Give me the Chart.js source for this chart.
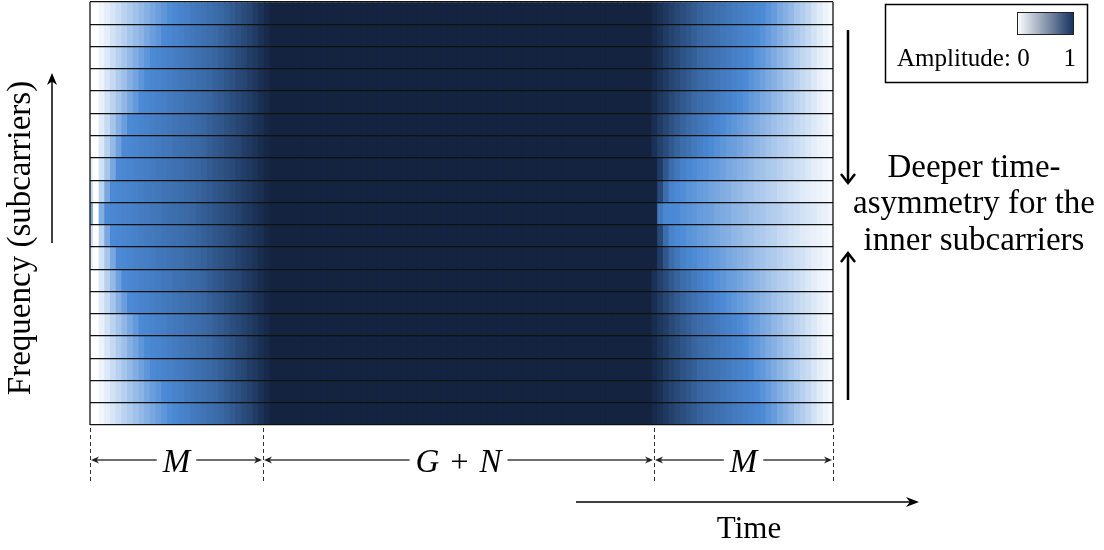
<!DOCTYPE html>
<html>
<head>
<meta charset="utf-8">
<title>Subcarrier amplitude over time</title>
<script src="https://cdn.jsdelivr.net/npm/chart.js@4.4.1/dist/chart.umd.min.js"></script>
<style>
  html, body { margin: 0; padding: 0; background: #fff; }
</style>
</head>
<body>
<canvas id="my-chart" width="1104" height="550"></canvas>
<script>
'use strict';

//***********Chart data***********
// amplitude in percent for each time column, one profile per subcarrier row
// left edge: columns 0..33, right edge: columns 97..130, columns in between are at full amplitude
let leftRamps = [
  [0, 0, 3, 6, 9, 12, 15, 18, 21, 24, 27, 30, 33, 36, 39, 42, 46, 49, 53, 56, 59, 63, 66, 70, 73, 76, 80, 83, 86, 90, 93, 97, 100, 100],
  [0, 0, 3, 6, 10, 13, 16, 20, 23, 26, 30, 33, 36, 40, 43, 46, 49, 53, 56, 59, 62, 65, 68, 72, 75, 78, 81, 84, 87, 90, 94, 97, 100, 100],
  [0, 0, 4, 8, 12, 16, 20, 24, 28, 32, 36, 40, 43, 46, 49, 52, 54, 57, 60, 63, 66, 69, 71, 74, 77, 80, 83, 86, 89, 91, 94, 97, 100, 100],
  [0, 0, 4, 9, 13, 18, 22, 27, 31, 36, 40, 43, 45, 48, 51, 54, 56, 59, 62, 65, 67, 70, 73, 75, 78, 81, 84, 86, 89, 92, 95, 97, 100, 100],
  [0, 0, 5, 10, 15, 20, 25, 30, 35, 40, 43, 45, 48, 50, 53, 56, 58, 61, 63, 66, 69, 71, 74, 76, 79, 82, 84, 87, 89, 92, 95, 97, 100, 100],
  [0, 0, 7, 13, 20, 27, 33, 40, 42, 45, 47, 50, 52, 55, 57, 59, 62, 64, 66, 69, 71, 74, 76, 78, 81, 83, 86, 88, 90, 93, 95, 98, 100, 100],
  [0, 0, 8, 16, 24, 32, 40, 42, 44, 47, 49, 51, 54, 56, 58, 61, 63, 65, 68, 70, 72, 75, 77, 79, 82, 84, 86, 89, 91, 93, 96, 98, 100, 100],
  [5, 0, 10, 20, 30, 40, 42, 44, 47, 49, 51, 53, 56, 58, 60, 62, 64, 67, 69, 71, 73, 76, 78, 80, 82, 84, 87, 89, 91, 93, 96, 98, 100, 100],
  [12, 0, 15, 30, 40, 42, 44, 46, 48, 51, 53, 55, 57, 59, 61, 63, 65, 68, 70, 72, 74, 76, 78, 80, 82, 85, 87, 89, 91, 93, 95, 98, 100, 100],
  [30, 0, 28, 40, 42, 44, 46, 48, 50, 52, 54, 56, 58, 61, 63, 65, 67, 69, 71, 73, 75, 77, 79, 81, 83, 85, 87, 90, 92, 94, 96, 98, 100, 100]
];
let rightRamps = [
  [100, 100, 97, 94, 91, 88, 85, 82, 79, 76, 73, 70, 67, 64, 61, 58, 55, 52, 49, 46, 43, 40, 37, 34, 30, 27, 24, 20, 17, 14, 10, 7, 4, 2],
  [100, 100, 97, 94, 90, 87, 84, 81, 78, 74, 71, 68, 65, 62, 58, 55, 52, 49, 46, 43, 40, 37, 34, 31, 28, 25, 22, 19, 16, 13, 10, 7, 4, 2],
  [100, 100, 97, 94, 90, 87, 84, 80, 77, 74, 70, 67, 64, 60, 57, 54, 50, 47, 44, 40, 37, 35, 32, 29, 26, 23, 20, 17, 14, 12, 9, 6, 4, 2],
  [100, 100, 97, 93, 90, 86, 83, 79, 76, 72, 68, 65, 61, 58, 54, 51, 47, 44, 40, 37, 35, 32, 29, 27, 24, 21, 19, 16, 13, 11, 8, 5, 3, 2],
  [100, 100, 96, 92, 89, 85, 81, 77, 74, 70, 66, 62, 59, 55, 51, 47, 44, 40, 38, 35, 33, 30, 28, 25, 23, 20, 18, 15, 13, 10, 8, 5, 3, 2],
  [100, 100, 95, 90, 86, 81, 76, 72, 67, 62, 58, 53, 49, 44, 40, 38, 36, 34, 32, 30, 28, 26, 24, 22, 20, 18, 16, 14, 12, 10, 8, 6, 4, 2],
  [100, 100, 94, 88, 83, 77, 72, 66, 61, 55, 50, 45, 40, 38, 36, 34, 33, 31, 29, 27, 25, 23, 21, 19, 17, 16, 14, 12, 10, 8, 6, 4, 3, 2],
  [100, 100, 100, 90, 78, 66, 56, 48, 43, 40, 38, 37, 35, 34, 32, 30, 29, 27, 26, 24, 22, 21, 19, 18, 16, 14, 13, 11, 10, 8, 6, 5, 3, 2],
  [100, 100, 100, 85, 65, 46, 40, 39, 37, 36, 34, 33, 31, 30, 28, 27, 25, 24, 22, 21, 19, 18, 16, 15, 13, 12, 10, 9, 7, 6, 5, 4, 3, 2],
  [100, 100, 100, 55, 42, 41, 40, 38, 37, 36, 34, 33, 32, 30, 29, 28, 26, 25, 24, 22, 21, 20, 18, 17, 16, 14, 13, 12, 10, 9, 8, 6, 5, 3]
];
// rows top to bottom -> profile (the picture is mirrored around the middle subcarrier)
let rowProfile = [0, 1, 2, 3, 4, 5, 6, 7, 8, 9, 8, 7, 6, 5, 4, 3, 2, 1, 0];
let midColumns = 63;
let midLevel = 100;

// segments under the plot, in column units
let spanBounds = [0.42, 30.77, 99.37, 130.77];
let spanLabels = ['M', 'G + N', 'M'];

let legendLabel = 'Amplitude: 0';
let rightNote = ['Deeper time-', 'asymmetry for the', 'inner subcarriers'];

//***********Colour map***********
let cmapStops = [
  [0, [255, 255, 255]],
  [0.4, [76, 138, 214]],
  [0.7, [58, 104, 164]],
  [0.85, [40, 72, 118]],
  [1, [19, 35, 64]]
];

function ampColor(pct) {
  let a = Math.max(0, Math.min(1, pct / 100));
  for (let i = 1; i < cmapStops.length; i++) {
    if (a <= cmapStops[i][0]) {
      let lo = cmapStops[i - 1];
      let hi = cmapStops[i];
      let t = (a - lo[0]) / (hi[0] - lo[0]);
      let c = lo[1].map((v, k) => Math.round(v + (hi[1][k] - v) * t));
      return `rgb(${c[0]},${c[1]},${c[2]})`;
    }
  }
  return 'rgb(19,35,64)';
}

//***********Build datasets***********
let heatRows = [];
for (let r = 0; r < rowProfile.length; r++) {
  let p = rowProfile[r];
  let amps = leftRamps[p].concat(new Array(midColumns).fill(midLevel), rightRamps[p]);
  let points = [];
  for (let j = 0; j < amps.length; j++) {
    points.push({ x: j + 0.5, y: [r, r + 1], a: amps[j] });
  }
  heatRows.push({
    label: 'row ' + r,
    data: points,
    grouped: false,
    barPercentage: 1,
    categoryPercentage: 1,
    borderWidth: 0,
    inflateAmount: 0.4,
    clip: 0,
    backgroundColor: (ctx) => ampColor(ctx.raw ? ctx.raw.a : 0)
  });
}

//***********Drawing helpers***********
function strokeLine(c, x1, y1, x2, y2) {
  c.beginPath();
  c.moveTo(x1, y1);
  c.lineTo(x2, y2);
  c.stroke();
}

function arrowHead(c, tx, ty, dx, dy, len, half, open) {
  let bx = tx - dx * len;
  let by = ty - dy * len;
  let px = -dy;
  let py = dx;
  c.beginPath();
  if (open) {
    c.moveTo(bx + px * half, by + py * half);
    c.lineTo(tx, ty);
    c.lineTo(bx - px * half, by - py * half);
    c.stroke();
  } else {
    c.moveTo(tx, ty);
    c.lineTo(bx + px * half, by + py * half);
    c.lineTo(tx - dx * len * 0.7, ty - dy * len * 0.7);
    c.lineTo(bx - px * half, by - py * half);
    c.closePath();
    c.fill();
  }
}

function spanFont(part) {
  return part === '+' ? '32px "Liberation Serif"' : 'italic 33px "Liberation Serif"';
}

function drawSpan(c, x1, x2, y, label) {
  let parts = label.split(' ');
  let gap = 11;
  let widths = parts.map(p => { c.font = spanFont(p); return c.measureText(p).width; });
  let total = widths.reduce((s, w) => s + w, 0) + gap * (parts.length - 1);
  let mid = (x1 + x2) / 2;
  let x = mid - total / 2;
  c.fillStyle = '#000';
  c.textAlign = 'left';
  c.textBaseline = 'alphabetic';
  parts.forEach((p, i) => {
    c.font = spanFont(p);
    c.fillText(p, x, y + 12);
    x += widths[i] + gap;
  });
  c.strokeStyle = '#3c3c3c';
  c.fillStyle = '#222';
  c.lineWidth = 1.5;
  strokeLine(c, x1 + 4, y, mid - total / 2 - 6, y);
  strokeLine(c, mid + total / 2 + 6, y, x2 - 4, y);
  arrowHead(c, x1 + 1, y, -1, 0, 8, 3.5, false);
  arrowHead(c, x2 - 1, y, 1, 0, 8, 3.5, false);
}

//***********Annotation plugin***********
let annotations = {
  id: 'annotations',
  afterDraw(chart) {
    let c = chart.ctx;
    let area = chart.chartArea;
    let xs = chart.scales.x;
    c.save();

    // frame sides
    c.strokeStyle = '#111';
    c.lineWidth = 1.3;
    strokeLine(c, area.left, area.top, area.left, area.bottom);
    strokeLine(c, area.right, area.top, area.right, area.bottom);

    // dashed segment markers
    let marks = spanBounds.map(v => xs.getPixelForValue(v));
    c.setLineDash([4, 3]);
    c.lineWidth = 1;
    c.strokeStyle = '#333';
    marks.forEach(px => strokeLine(c, Math.round(px) + 0.5, area.bottom + 3, Math.round(px) + 0.5, area.bottom + 56));
    c.setLineDash([]);

    for (let i = 0; i < spanLabels.length; i++) {
      drawSpan(c, marks[i], marks[i + 1], 460, spanLabels[i]);
    }

    // time arrow
    c.strokeStyle = '#000';
    c.fillStyle = '#000';
    c.lineWidth = 1.5;
    strokeLine(c, 576, 502, 912, 502);
    arrowHead(c, 919, 502, 1, 0, 13, 5, false);
    c.font = '31px "Liberation Serif"';
    c.textAlign = 'center';
    c.textBaseline = 'alphabetic';
    c.fillText('Time', 749, 538);

    // frequency label and arrow
    strokeLine(c, 52, 243, 52, 80);
    arrowHead(c, 52, 73, 0, -1, 12, 5, false);
    c.save();
    c.translate(30, 238);
    c.rotate(-Math.PI / 2);
    c.font = '33px "Liberation Serif"';
    c.textAlign = 'center';
    c.fillText('Frequency (subcarriers)', 0, 0);
    c.restore();

    // right side note with arrows
    c.lineWidth = 2.5;
    strokeLine(c, 848, 30, 848, 182);
    arrowHead(c, 848, 183, 0, 1, 9, 7, true);
    strokeLine(c, 848, 400, 848, 254);
    arrowHead(c, 848, 253, 0, -1, 9, 7, true);
    c.font = '33px "Liberation Serif"';
    c.textAlign = 'center';
    let noteY = [177, 213, 250];
    rightNote.forEach((t, i) => c.fillText(t, 974, noteY[i]));

    // legend box
    c.lineWidth = 1.5;
    c.strokeStyle = '#000';
    c.strokeRect(885.5, 4.5, 202, 78);
    let grad = c.createLinearGradient(1017, 0, 1074, 0);
    grad.addColorStop(0, '#ffffff');
    grad.addColorStop(1, '#13305e');
    c.fillStyle = grad;
    c.fillRect(1017, 12, 57, 23);
    c.lineWidth = 1;
    c.strokeStyle = '#222';
    c.strokeRect(1017.5, 12.5, 56, 22);
    c.fillStyle = '#000';
    c.font = '25px "Liberation Serif"';
    c.textAlign = 'left';
    c.fillText(legendLabel, 897, 66);
    c.textAlign = 'right';
    c.fillText('1', 1076, 66);

    c.restore();
  }
};

//***********Render chart***********
let ctx = document.getElementById('my-chart').getContext('2d');

new Chart(ctx, {
  type: 'bar',
  data: { datasets: heatRows },
  options: {
    responsive: false,
    animation: false,
    events: [],
    layout: { padding: { left: 90, right: 271, top: 2, bottom: 125 } },
    plugins: {
      legend: { display: false },
      tooltip: { enabled: false }
    },
    scales: {
      x: {
        type: 'linear',
        display: false,
        offset: false,
        min: spanBounds[0],
        max: spanBounds[3],
        ticks: { stepSize: 50 }
      },
      y: {
        type: 'linear',
        reverse: true,
        min: 0,
        max: rowProfile.length,
        ticks: { display: false, stepSize: 1 },
        grid: { color: '#111', lineWidth: 1.2, drawTicks: false, z: 1 },
        border: { display: false }
      }
    }
  },
  plugins: [annotations]
});
</script>
</body>
</html>
